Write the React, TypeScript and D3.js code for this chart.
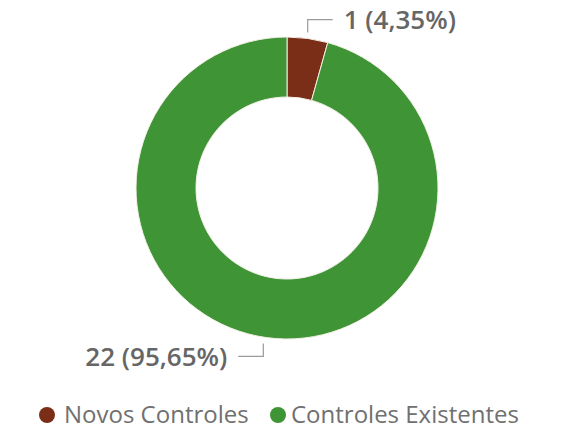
import * as d3 from 'd3';

const categories = ['Novos Controles', 'Controles Existentes'];
const values = [1, 22];
const labels = ['1 (4,35%)', '22 (95,65%)'];
const colors = ['#7a2e17', '#3f9535'];

const W = 566;
const H = 431;

export default function App() {
  const cx = 287;
  const cy = 188;
  const outer = 151;
  const inner = 91;

  const pie = d3.pie<number>().sort(null).value((d) => d);
  const arcs = pie(values);
  const arc = d3.arc<d3.PieArcDatum<number>>().innerRadius(inner).outerRadius(outer);

  const font = '"Open Sans", "Noto Sans", sans-serif';

  return (
    <svg width={W} height={H} style={{ position: 'absolute', left: 0, top: 0, background: '#fff' }}>
      <g transform={`translate(${cx},${cy})`}>
        {arcs.map((a, i) => (
          <path key={categories[i]} d={arc(a) || undefined} fill={colors[i]} stroke="#f4f0e8" strokeWidth={1} />
        ))}
        {arcs.map((a, i) => {
          const mid = (a.startAngle + a.endAngle) / 2;
          const sx = Math.sin(mid);
          const sy = -Math.cos(mid);
          const x0 = (outer + 1) * sx - (sx < 0 ? 3 : 0);
          const y0 = (outer + 6) * sy;
          const y1 = (outer + 19) * sy;
          const dir = sx >= 0 ? 1 : -1;
          const x1 = x0 + dir * 25;
          return (
            <g key={'lbl' + i}>
              <polyline
                points={`${x0},${y0} ${x0},${y1} ${x1},${y1}`}
                fill="none"
                stroke="#9a9a9a"
                strokeWidth={1.2}
              />
              <text
                x={x1 + dir * 11}
                y={y1}
                dy="0.35em"
                textAnchor={dir > 0 ? 'start' : 'end'}
                fontFamily={font}
                fontWeight={600}
                fontSize={26}
                fill="#666"
              >
                {labels[i]}
              </text>
            </g>
          );
        })}
      </g>
      <g transform="translate(0,415)">
        <circle cx={47} cy={0} r={8} fill={colors[0]} />
        <text x={64} y={0} dy="0.35em" fontFamily={font} fontSize={24} fill="#707070">
          {categories[0]}
        </text>
        <circle cx={278} cy={0} r={8} fill={colors[1]} />
        <text x={291} y={0} dy="0.35em" fontFamily={font} fontSize={24} fill="#707070">
          {categories[1]}
        </text>
      </g>
    </svg>
  );
}
